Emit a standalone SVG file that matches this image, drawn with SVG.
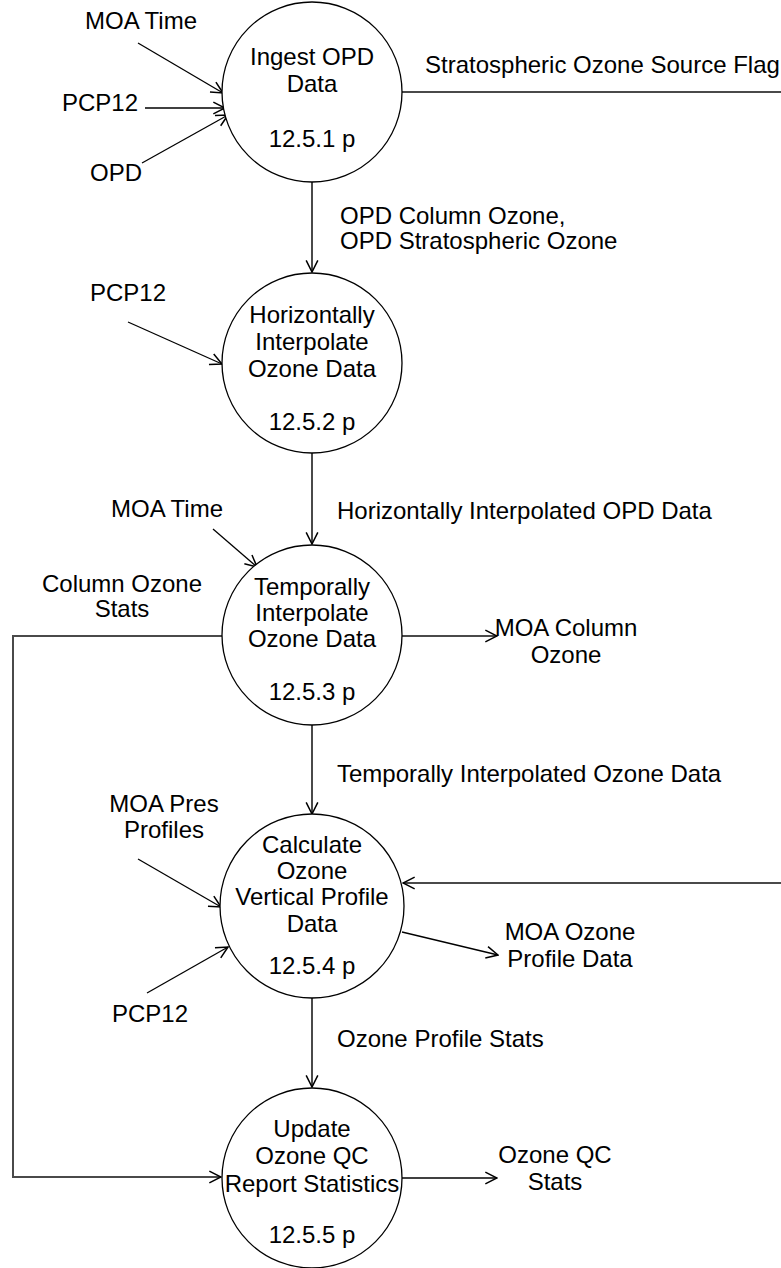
<svg xmlns="http://www.w3.org/2000/svg" width="781" height="1268" viewBox="0 0 781 1268">
  <style>
    text { font-family: "Liberation Sans", Arial, sans-serif; font-size: 24px; fill: #000; }
    .c { text-anchor: middle; }
    .bubble { fill: #fff; stroke: #000; stroke-width: 1.3; }
    .flow { fill: none; stroke: #4a4a4a; stroke-width: 2; }
    .in { fill: none; stroke: #000; stroke-width: 1.3; }
  </style>
  <defs>
    <marker id="arrow" markerUnits="userSpaceOnUse" markerWidth="14" markerHeight="14" viewBox="0 0 12 12" refX="11" refY="6" orient="auto">
      <path d="M1,1 L11,6 L1,11" fill="none" stroke="#000" stroke-width="1.3"/>
    </marker>
  </defs>
  <rect width="781" height="1268" fill="#fff"/>

  <!-- connectors -->
  <g id="connectors">
    <!-- inputs to 12.5.1 -->
    <line class="in" x1="138" y1="43" x2="223" y2="93" marker-end="url(#arrow)"/>
    <line class="in" x1="145" y1="108" x2="225" y2="108" marker-end="url(#arrow)"/>
    <line class="in" x1="142" y1="163" x2="228" y2="115" marker-end="url(#arrow)"/>
    <!-- stratospheric source flag, leaves to the right -->
    <line class="flow" x1="402" y1="92" x2="781" y2="92"/>
    <!-- 12.5.1 -> 12.5.2 -->
    <line class="flow" x1="312" y1="181" x2="312" y2="272" marker-end="url(#arrow)"/>
    <!-- PCP12 -> 12.5.2 -->
    <line class="in" x1="128" y1="322" x2="222" y2="364" marker-end="url(#arrow)"/>
    <!-- 12.5.2 -> 12.5.3 -->
    <line class="flow" x1="312" y1="453" x2="312" y2="544" marker-end="url(#arrow)"/>
    <!-- MOA Time -> 12.5.3 -->
    <line class="in" x1="213" y1="529" x2="257" y2="567" marker-end="url(#arrow)"/>
    <!-- column ozone stats loop to 12.5.5 -->
    <polyline class="flow" points="222,636 13,636 13,1177 221,1177" marker-end="url(#arrow)"/>
    <!-- 12.5.3 -> MOA Column Ozone -->
    <line class="flow" x1="402" y1="636" x2="497" y2="636" marker-end="url(#arrow)"/>
    <!-- 12.5.3 -> 12.5.4 -->
    <line class="flow" x1="312" y1="725" x2="312" y2="814" marker-end="url(#arrow)"/>
    <!-- inputs to 12.5.4 -->
    <line class="in" x1="138" y1="859" x2="221" y2="907" marker-end="url(#arrow)"/>
    <line class="in" x1="147" y1="993" x2="228" y2="947" marker-end="url(#arrow)"/>
    <line class="flow" x1="781" y1="883" x2="403" y2="883" marker-end="url(#arrow)"/>
    <!-- 12.5.4 -> MOA Ozone Profile Data -->
    <line class="in" x1="402" y1="932" x2="498" y2="955" marker-end="url(#arrow)"/>
    <!-- 12.5.4 -> 12.5.5 -->
    <line class="flow" x1="312" y1="998" x2="312" y2="1087" marker-end="url(#arrow)"/>
    <!-- 12.5.5 -> Ozone QC Stats -->
    <line class="in" x1="402" y1="1178" x2="497" y2="1178" marker-end="url(#arrow)"/>
  </g>

  <!-- flow labels -->
  <g id="labels">
    <text class="c" x="141" y="29">MOA Time</text>
    <text class="c" x="100" y="111">PCP12</text>
    <text class="c" x="116" y="181">OPD</text>
    <text x="425" y="73">Stratospheric Ozone Source Flag</text>
    <text x="340" y="224">OPD Column Ozone,</text>
    <text x="340" y="249">OPD Stratospheric Ozone</text>
    <text class="c" x="128" y="301">PCP12</text>
    <text x="337" y="519">Horizontally Interpolated OPD Data</text>
    <text class="c" x="167" y="517">MOA Time</text>
    <text class="c" x="122" y="592">Column Ozone</text>
    <text class="c" x="122" y="617">Stats</text>
    <text class="c" x="566" y="636">MOA Column</text>
    <text class="c" x="566" y="663">Ozone</text>
    <text x="337" y="782">Temporally Interpolated Ozone Data</text>
    <text class="c" x="164" y="812">MOA Pres</text>
    <text class="c" x="164" y="838">Profiles</text>
    <text class="c" x="150" y="1022">PCP12</text>
    <text class="c" x="570" y="940">MOA Ozone</text>
    <text class="c" x="570" y="967">Profile Data</text>
    <text x="337" y="1047">Ozone Profile Stats</text>
    <text class="c" x="555" y="1163">Ozone QC</text>
    <text class="c" x="555" y="1190">Stats</text>
  </g>

  <!-- processes -->
  <g id="p12-5-1">
    <circle class="bubble" cx="312" cy="92" r="90"/>
    <text class="c" x="312" y="65">Ingest OPD</text>
    <text class="c" x="312" y="92">Data</text>
    <text class="c" x="312" y="147">12.5.1 p</text>
  </g>
  <g id="p12-5-2">
    <circle class="bubble" cx="312" cy="363" r="90"/>
    <text class="c" x="312" y="323">Horizontally</text>
    <text class="c" x="312" y="350">Interpolate</text>
    <text class="c" x="312" y="377">Ozone Data</text>
    <text class="c" x="312" y="430">12.5.2 p</text>
  </g>
  <g id="p12-5-3">
    <circle class="bubble" cx="312" cy="635" r="90"/>
    <text class="c" x="312" y="595">Temporally</text>
    <text class="c" x="312" y="621">Interpolate</text>
    <text class="c" x="312" y="647">Ozone Data</text>
    <text class="c" x="312" y="700">12.5.3 p</text>
  </g>
  <g id="p12-5-4">
    <circle class="bubble" cx="312" cy="906" r="92"/>
    <text class="c" x="312" y="853">Calculate</text>
    <text class="c" x="312" y="879">Ozone</text>
    <text class="c" x="312" y="905">Vertical Profile</text>
    <text class="c" x="312" y="932">Data</text>
    <text class="c" x="312" y="974">12.5.4 p</text>
  </g>
  <g id="p12-5-5">
    <circle class="bubble" cx="312" cy="1178" r="90"/>
    <text class="c" x="312" y="1137">Update</text>
    <text class="c" x="312" y="1164">Ozone QC</text>
    <text class="c" x="312" y="1192">Report Statistics</text>
    <text class="c" x="312" y="1243">12.5.5 p</text>
  </g>
</svg>
